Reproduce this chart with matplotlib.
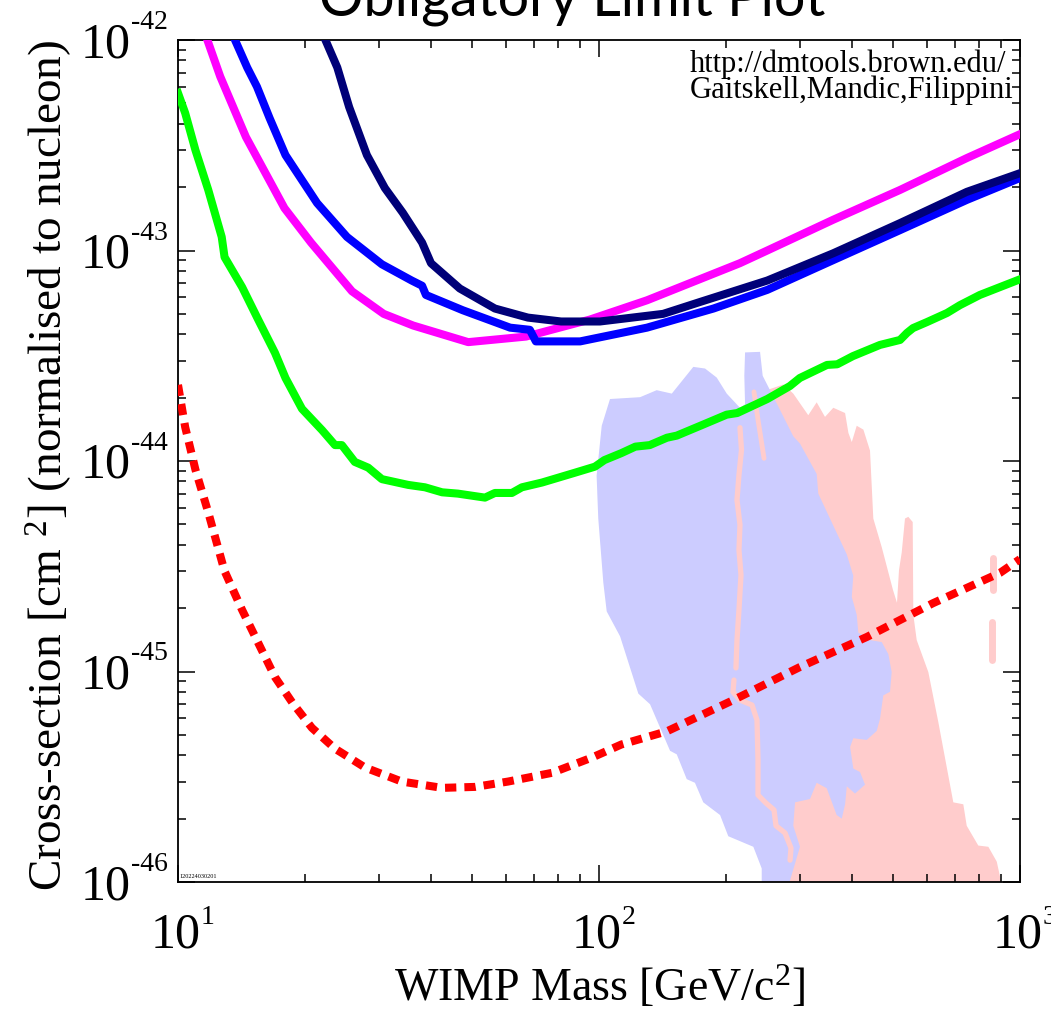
import matplotlib
matplotlib.use("Agg")
import matplotlib.pyplot as plt
from matplotlib.ticker import NullFormatter, LogLocator

# ---- values: WIMP mass [GeV/c^2], cross-section [cm^2] ----
magenta_mass = [11.7, 12.6, 14.5, 17.9, 20.7, 25.9, 30.8, 36.2, 48.9, 67.1, 95.2, 130, 216, 251, 360, 519, 748, 1000]
magenta_xs = [1.02e-42, 6.7e-43, 3.46e-43, 1.59e-43, 1.09e-43, 6.4e-44, 5.0e-44, 4.4e-44, 3.67e-44, 3.9e-44,
              4.7e-44, 5.8e-44, 8.7e-44, 1.0e-43, 1.4e-43, 1.94e-43, 2.75e-43, 3.57e-43]

blue_mass = [13.6, 14.6, 15.4, 16.5, 18.0, 21.4, 25.2, 30.5, 35.9, 38.0, 38.8, 47.5, 61.5, 68.5, 70.8, 90.2,
             130, 187, 251, 360, 519, 748, 1000]
blue_xs = [1.02e-42, 7.4e-43, 6.0e-43, 4.26e-43, 2.84e-43, 1.68e-43, 1.16e-43, 8.6e-44, 7.2e-44, 6.8e-44, 6.15e-44,
           5.2e-44, 4.3e-44, 4.2e-44, 3.7e-44, 3.7e-44, 4.3e-44, 5.3e-44, 6.5e-44, 9.0e-44, 1.25e-43, 1.74e-43, 2.21e-43]

navy_mass = [22.3, 23.9, 25.5, 28.1, 31.0, 34.2, 38.0, 39.9, 46.7, 56.6, 67.8, 81.3, 100.5, 142, 174, 251, 360,
             519, 748, 1000]
navy_xs = [1.02e-42, 7.4e-43, 4.8e-43, 2.84e-43, 1.98e-43, 1.51e-43, 1.09e-43, 8.7e-44, 6.6e-44, 5.3e-44, 4.8e-44,
           4.6e-44, 4.6e-44, 5.0e-44, 5.7e-44, 7.2e-44, 9.7e-44, 1.35e-43, 1.90e-43, 2.33e-43]

green_mass = [10.0, 10.4, 11.0, 11.8, 12.7, 12.9, 14.2, 15.5, 17.0, 18.0, 19.7, 22.0, 23.6, 24.5, 26.3, 28.3,
              30.5, 35.2, 38.6, 42.4, 46.2, 53.6, 56.6, 62.1, 65.6, 73.2, 87.7, 97.8, 103, 113, 122, 132, 145,
              153, 174, 201, 213, 251, 284, 300, 348, 368, 401, 465, 519, 539, 557, 601, 671, 720, 803, 896, 1000]
green_xs = [5.6e-43, 4.5e-43, 3.0e-43, 1.94e-43, 1.16e-43, 9.3e-44, 6.7e-44, 4.7e-44, 3.26e-44, 2.48e-44,
            1.77e-44, 1.40e-44, 1.19e-44, 1.19e-44, 9.9e-45, 9.3e-45, 8.2e-45, 7.7e-45, 7.5e-45, 7.1e-45,
            7.0e-45, 6.7e-45, 7.05e-45, 7.05e-45, 7.5e-45, 7.9e-45, 8.8e-45, 9.4e-45, 1.01e-44, 1.09e-44,
            1.17e-44, 1.19e-44, 1.29e-44, 1.32e-44, 1.47e-44, 1.66e-44, 1.69e-44, 1.97e-44, 2.27e-44, 2.48e-44,
            2.86e-44, 2.88e-44, 3.15e-44, 3.56e-44, 3.76e-44, 4.06e-44, 4.28e-44, 4.57e-44, 5.05e-44, 5.5e-44,
            6.15e-44, 6.7e-44, 7.3e-44]

red_mass = [10.0, 10.4, 11.0, 11.8, 12.9, 14.2, 15.5, 17.0, 18.7, 20.8, 23.6, 27.8, 34.0, 42.4, 50.8, 60.8,
            77.3, 96.2, 113, 145, 208, 300, 433, 621, 896, 1000]
red_xs = [2.3e-44, 1.45e-44, 9.1e-45, 5.7e-45, 3.0e-45, 1.96e-45, 1.37e-45, 9.4e-46, 7.1e-46, 5.4e-46, 4.3e-46,
          3.5e-46, 3.0e-46, 2.8e-46, 2.83e-46, 3.0e-46, 3.3e-46, 3.9e-46, 4.5e-46, 5.2e-46, 7.3e-46, 1.05e-45,
          1.46e-45, 2.11e-45, 2.94e-45, 3.42e-45]

# shaded regions (outline vertices)
region_blue_mass = [222.3, 241.3, 244.8, 254.8, 269.1, 289.4, 300.2, 328.9, 331.8, 360.2, 387.8, 401.8, 398.5,
                    409.4, 413.0, 440.3, 469.4, 486.7, 495.7, 491.2, 473.5, 465.1, 456.7, 432.4, 401.8, 394.9,
                    401.8, 416.9, 428.4, 405.6, 387.8, 384.2, 377.3, 366.9, 347.4, 328.9, 317.1, 292.2, 289.4,
                    300.2, 279.2, 243.5, 243.5, 232.6, 202.8, 193.9, 176.9, 169.0, 161.6, 153.0, 147.5, 132.2,
                    124.0, 112.2, 104.3, 102.4, 99.6, 98.7, 101.5, 106.2, 125.2, 137.1, 148.9, 167.5, 178.6,
                    190.4, 201.1, 216.2, 222.3, 221.4]
region_blue_xs = [3.28e-44, 3.30e-44, 2.54e-44, 2.17e-44, 1.75e-44, 1.31e-44, 1.21e-44, 8.68e-45, 7.00e-45,
                  4.93e-45, 3.60e-45, 2.85e-45, 2.26e-45, 1.86e-45, 1.53e-45, 1.41e-45, 1.38e-45, 1.21e-45,
                  9.94e-46, 8.01e-46, 7.70e-46, 5.97e-46, 5.22e-46, 4.73e-46, 4.82e-46, 4.38e-46, 3.46e-46,
                  3.33e-46, 2.90e-46, 2.63e-46, 2.85e-46, 2.34e-46, 2.00e-46, 2.08e-46, 2.79e-46, 2.96e-46,
                  2.48e-46, 2.39e-46, 1.85e-46, 1.47e-46, 0.9e-46, 0.9e-46, 1.16e-46, 1.47e-46, 1.65e-46,
                  2.08e-46, 2.39e-46, 2.96e-46, 3.08e-46, 4.04e-46, 4.20e-46, 6.99e-46, 7.85e-46, 1.47e-45,
                  1.93e-45, 2.64e-45, 5.33e-45, 8.51e-45, 1.47e-44, 1.97e-44, 2.01e-44, 2.17e-44, 2.09e-44,
                  2.80e-44, 2.75e-44, 2.49e-44, 2.09e-44, 1.79e-44, 1.86e-44, 2.54e-44]

region_pink_mass = [250.2, 274.1, 289.4, 314.1, 328.9, 344.2, 360.2, 384.2, 391.2, 398.5, 409.4, 424.6, 440.3,
                    448.3, 469.4, 499.2, 510.3, 515.9, 523.6, 533.1, 542.9, 556.1, 558.0, 568.4, 605.7, 639.7,
                    675.7, 694.4, 733.4, 747.2, 796.0, 841.0, 880.6, 912.7, 269.1, 261.8, 269.1, 284.3, 269.1,
                    252.0]
region_pink_xs = [2.17e-44, 2.31e-44, 2.09e-44, 1.65e-44, 1.90e-44, 1.62e-44, 1.79e-44, 1.69e-44, 1.36e-44,
                  1.23e-44, 1.47e-44, 1.41e-44, 1.12e-44, 5.33e-45, 3.90e-45, 2.44e-45, 2.12e-45, 3.03e-45,
                  3.67e-45, 5.33e-45, 5.43e-45, 5.13e-45, 1.86e-45, 1.41e-45, 9.94e-46, 5.75e-46, 3.20e-46,
                  2.39e-46, 2.34e-46, 1.85e-46, 1.49e-46, 1.47e-46, 1.25e-46, 0.9e-46, 0.9e-46, 2.45e-46,
                  7.32e-46, 2.19e-45, 1.13e-44, 1.95e-44]

# thin pink streaks inside / beside the blue region
strip_upper_mass = [216.2, 218.0, 215.0, 212.7, 216.2, 215.0, 217.4, 215.0, 212.7, 211.5]
strip_upper_xs = [1.44e-44, 1.13e-44, 8.58e-45, 6.53e-45, 4.97e-45, 3.78e-45, 2.87e-45, 1.96e-45, 1.41e-45, 1.04e-45]
strip_lower_mass = [209.2, 208.1, 216.2, 230.9, 237.3, 238.6, 238.6, 249.3, 260.4, 263.3, 276.6, 285.8, 284.3]
strip_lower_xs = [9.11e-46, 7.99e-46, 7.32e-46, 6.93e-46, 5.88e-46, 3.80e-46, 2.59e-46, 2.37e-46, 2.20e-46,
                  1.85e-46, 1.71e-46, 1.45e-46, 1.27e-46]
tongue_mass = [233.4, 238.6, 246.6]
tongue_xs = [2.13e-44, 1.57e-44, 1.03e-44]
blob_a_mass = [862.9, 862.9]
blob_a_xs = [3.46e-45, 2.44e-45]
blob_b_mass = [858.2, 858.2]
blob_b_xs = [1.72e-45, 1.13e-45]

x_ticks = [10, 100, 1000]
x_tick_exps = ['1', '2', '3']
y_ticks = [1e-46, 1e-45, 1e-44, 1e-43, 1e-42]
y_tick_exps = ['-46', '-45', '-44', '-43', '-42']

plt.rcParams['font.family'] = ['Liberation Serif', 'DejaVu Serif']
plt.rcParams['mathtext.fontset'] = 'custom'
plt.rcParams['mathtext.rm'] = 'Liberation Serif'
plt.rcParams['mathtext.it'] = 'Liberation Serif:italic'
plt.rcParams['mathtext.bf'] = 'Liberation Serif:bold'

fig = plt.figure(figsize=(10.51, 10.10), dpi=100)
ax = fig.add_axes([178 / 1051, 1 - 882 / 1010, 842 / 1051, 842 / 1010])
ax.set_xscale('log')
ax.set_yscale('log')

# regions: pink underneath, blue over it, then the pink streaks on top
ax.fill(region_pink_mass, region_pink_xs, color='#ffcccc', lw=0, zorder=1)
ax.fill(region_blue_mass, region_blue_xs, color='#ccccff', lw=0, zorder=2)
for m, s, w in [(strip_upper_mass, strip_upper_xs, 3.8), (strip_lower_mass, strip_lower_xs, 3.8),
                (tongue_mass, tongue_xs, 3.5), (blob_a_mass, blob_a_xs, 5.0), (blob_b_mass, blob_b_xs, 5.0)]:
    ax.plot(m, s, color='#ffcccc', lw=w, solid_capstyle='round', zorder=3)

lw = 5.8
ax.plot(magenta_mass, magenta_xs, color='#ff00ff', lw=lw, zorder=4)
ax.plot(blue_mass, blue_xs, color='#0000ff', lw=lw, zorder=5)
ax.plot(navy_mass, navy_xs, color='#000078', lw=lw, zorder=6)
ax.plot(green_mass, green_xs, color='#00ff00', lw=lw, zorder=7)
ax.plot(red_mass, red_xs, color='#ff0000', lw=lw, linestyle=(0, (1.4, 1.0)), dash_capstyle='butt', zorder=8)

ax.set_xlim(10, 1000)
ax.set_ylim(1e-46, 1e-42)

ax.set_xticks(x_ticks)
ax.set_yticks(y_ticks)
ax.xaxis.set_minor_locator(LogLocator(base=10, subs=range(2, 10)))
ax.yaxis.set_minor_locator(LogLocator(base=10, subs=range(2, 10), numticks=20))
ax.xaxis.set_minor_formatter(NullFormatter())
ax.yaxis.set_minor_formatter(NullFormatter())
ax.tick_params(which='both', direction='in', top=True, right=True, width=1.1, color='black',
               labelbottom=False, labelleft=False)
ax.tick_params(which='major', length=12)
ax.tick_params(which='minor', length=6)

# tick labels drawn by hand: big "10" with a small superscript, like the IDL original
for val, ex in zip(y_ticks, y_tick_exps):
    ax.annotate('10', xy=(0, val), xycoords=('axes fraction', 'data'), xytext=(-47, -17),
                textcoords='offset pixels', ha='right', va='baseline', fontsize=36, annotation_clip=False)
    ax.annotate(ex, xy=(0, val), xycoords=('axes fraction', 'data'), xytext=(-47, 11),
                textcoords='offset pixels', ha='left', va='baseline', fontsize=20, annotation_clip=False)
for val, ex in zip(x_ticks, x_tick_exps):
    ax.annotate('10', xy=(val, 0), xycoords=('data', 'axes fraction'), xytext=(-2, -66),
                textcoords='offset pixels', ha='center', va='baseline', fontsize=36, annotation_clip=False)
    ax.annotate(ex, xy=(val, 0), xycoords=('data', 'axes fraction'), xytext=(23, -42),
                textcoords='offset pixels', ha='left', va='baseline', fontsize=20, annotation_clip=False)

for sp in ax.spines.values():
    sp.set_linewidth(1.3)
    sp.set_color('black')

ax.set_xlabel('WIMP Mass [GeV/c$^2$]', fontsize=33)
ax.xaxis.set_label_coords(0.5, -0.098)
ax.set_ylabel('Cross-section [cm $^2$] (normalised to nucleon)', fontsize=34)
ax.yaxis.set_label_coords(-0.124, 0.495)

ax.text(0.608, 0.962, 'http://dmtools.brown.edu/', transform=ax.transAxes, fontsize=22,
        va='baseline', clip_on=True, zorder=10)
ax.text(0.608, 0.931, 'Gaitskell,Mandic,Filippini', transform=ax.transAxes, fontsize=22,
        va='baseline', clip_on=True, zorder=10)
ax.text(0.002, 0.003, '120224030201', transform=ax.transAxes, fontsize=4.5, va='bottom', zorder=10)

fig.text(572 / 1051, 1 - 15 / 1010, 'Obligatory Limit Plot', family='Lato', fontsize=40,
         ha='center', va='baseline')

fig.savefig('out.png', dpi=100)
